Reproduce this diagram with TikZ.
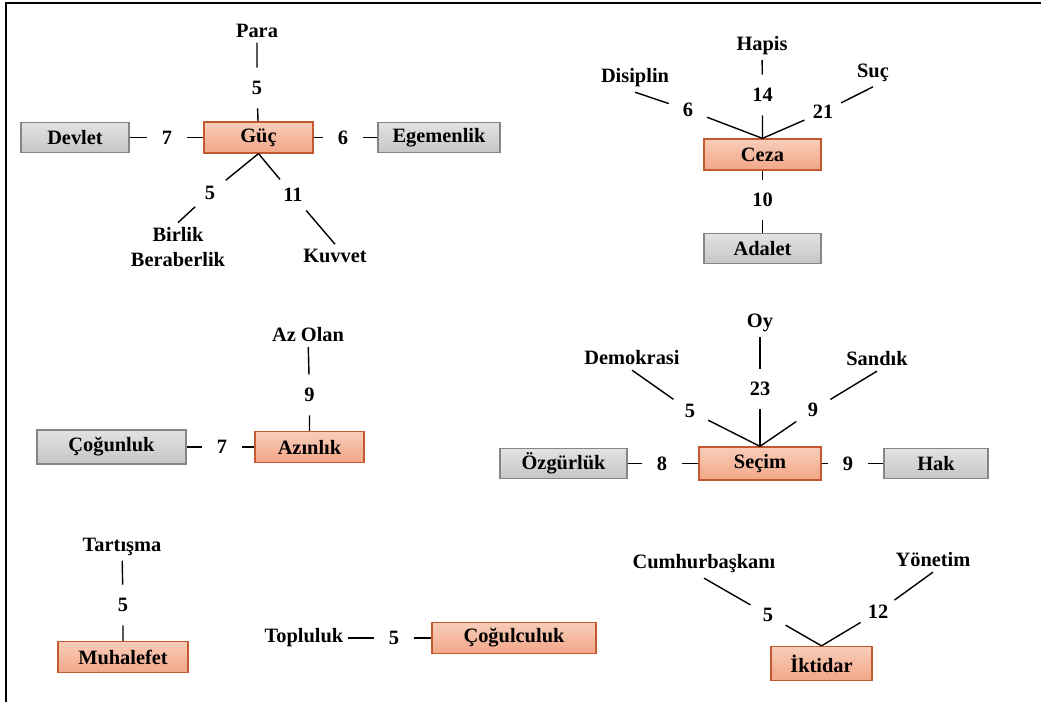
\documentclass[tikz,border=0pt]{standalone}
\usepackage{fontspec}
\setmainfont{Liberation Serif}
\definecolor{coretop}{HTML}{F9CDB9}
\definecolor{corebot}{HTML}{F2A688}
\definecolor{corebrd}{HTML}{C4582E}
\definecolor{sidetop}{HTML}{E2E2E2}
\definecolor{sidebot}{HTML}{C6C6C6}
\definecolor{sidebrd}{HTML}{858585}
\begin{document}
\begin{tikzpicture}[x=0.025cm,y=-0.025cm,
  every node/.style={font=\fontsize{14.5}{17.4}\selectfont\bfseries},
  core/.style={draw=corebrd,top color=coretop,bottom color=corebot,line width=0.9pt,minimum height=0.775cm,inner sep=0pt},
  side/.style={draw=sidebrd,top color=sidetop,bottom color=sidebot,line width=0.9pt,minimum height=0.75cm,inner sep=0pt},
  count/.style={circle,inner sep=0pt,minimum size=1cm},
  link/.style={line width=1pt}]
\useasboundingbox (0,0) rectangle (1041,702);
\coordinate (framebl) at (6,702);
\coordinate (frametl) at (6,3);
\coordinate (frametr) at (1041,3);
\draw[line width=2pt] (framebl) -- (frametl) -- (frametr);

\node (para) at (257,31) {Para};
\node[align=center] (birlik) at (178,247) {Birlik\\Beraberlik};
\node (kuvvet) at (335,256) {Kuvvet};
\node[side,minimum width=2.7cm] (devlet) at (75,137.5) {Devlet};
\node[core,minimum width=2.725cm] (guc) at (258.5,137.5) {Güç};
\node[side,minimum width=3.05cm] (egemenlik) at (439,137.5) {Egemenlik};
\node[count] (pg) at (257,88) {5};
\node[count] (dg) at (167,137.5) {7};
\node[count] (ge) at (343,137.5) {6};
\node[count] (gb) at (210,193) {5};
\node[count] (gk) at (293,195) {11};

\node (hapis) at (762,46) {Hapis};
\node (disiplin) at (635,78) {Disiplin};
\node (suc) at (873,73) {Suç};
\node[core,minimum width=2.925cm] (ceza) at (762.5,154.5) {Ceza};
\node[side,minimum width=2.925cm] (adalet) at (762.5,248.5) {Adalet};
\node[count] (hc) at (762.5,95) {14};
\node[count] (dc) at (688,110) {6};
\node[count] (sc) at (823,112) {21};
\node[count] (ca) at (762.5,200) {10};

\node (azolan) at (308,335) {Az Olan};
\node[core,minimum width=2.725cm] (azinlik) at (309.5,447) {Azınlık};
\node[side,minimum width=3.725cm,minimum height=0.85cm] (cogunluk) at (111.5,447) {Çoğunluk};
\node[count] (aa) at (309.5,395) {9};
\node[count] (ka) at (222,447) {7};

\node (tartisma) at (122,547) {Tartışma};
\node[core,minimum width=3.25cm] (muhalefet) at (123,657) {Muhalefet};
\node[count] (tm) at (123,605) {5};

\node (topluluk) at (304,638) {Topluluk};
\node[core,minimum width=4.1cm] (cogulculuk) at (514,638) {Çoğulculuk};
\node[count] (tc) at (394,638) {5};

\node (oy) at (760,323) {Oy};
\node (demokrasi) at (632,358) {Demokrasi};
\node (sandik) at (877,359) {Sandık};
\node[core,minimum width=3.05cm,minimum height=0.825cm] (secim) at (760,463.5) {Seçim};
\node[side,minimum width=3.175cm] (ozgurluk) at (563.5,463.5) {Özgürlük};
\node[side,minimum width=2.6cm] (hak) at (936,463.5) {Hak};
\node[count] (os) at (760,389) {23};
\node[count] (ds) at (690,411) {5};
\node[count] (ss) at (813,410) {9};
\node[count] (zs) at (662,463.5) {8};
\node[count] (sh) at (848,463.5) {9};

\node (cumhur) at (704,564) {Cumhurbaşkanı};
\node (yonetim) at (933,560) {Yönetim};
\node[core,minimum width=2.525cm,minimum height=0.85cm] (iktidar) at (821.5,663.5) {İktidar};
\node[count] (ci) at (768,615) {5};
\node[count] (yi) at (878,612) {12};

\draw[link] (para) -- (pg) -- (guc);
\draw[link] (devlet) -- (dg) -- (guc);
\draw[link] (guc) -- (ge) -- (egemenlik);
\draw[link] (guc.south) -- (gb) -- (birlik.north);
\draw[link] (guc.south) -- (gk) -- (kuvvet.north);

\draw[link] (hapis) -- (hc) -- (ceza.north);
\draw[link] (disiplin.south) -- (dc) -- (ceza.north);
\draw[link] (suc.south) -- (sc) -- (ceza.north);
\draw[link] (ceza) -- (ca) -- (adalet);

\draw[link] (azolan) -- (aa) -- (azinlik);
\draw[link] (cogunluk) -- (ka) -- (azinlik);

\draw[link] (tartisma) -- (tm) -- (muhalefet);

\draw[link] (topluluk) -- (tc) -- (cogulculuk);

\draw[link] (oy) -- (os) -- (secim.north);
\draw[link] (demokrasi.south) -- (ds) -- (secim.north);
\draw[link] (sandik.south) -- (ss) -- (secim.north);
\draw[link] (ozgurluk) -- (zs) -- (secim);
\draw[link] (secim) -- (sh) -- (hak);

\draw[link] (cumhur.south) -- (ci) -- (iktidar.north);
\draw[link] (yonetim.south) -- (yi) -- (iktidar.north);
\end{tikzpicture}
\end{document}
